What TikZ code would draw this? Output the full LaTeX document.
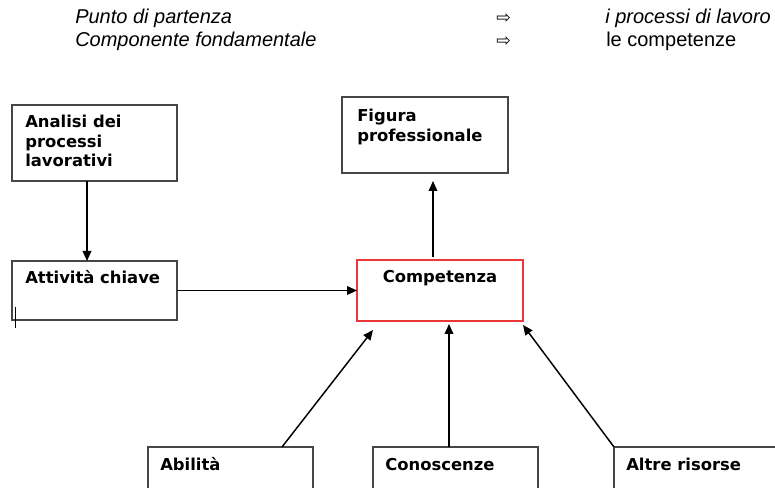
\documentclass[tikz,border=0pt]{standalone}
\usepackage{fontspec}
\setmainfont{DejaVu Sans}
\newfontfamily\hdrfont{Liberation Sans}
\newfontfamily\symfont{DejaVu Sans}
\usetikzlibrary{arrows.meta}
\newdimen\pxu \pxu=0.75pt
\definecolor{boxgray}{RGB}{70,70,70}
\definecolor{compred}{RGB}{235,55,55}
\tikzset{
  box/.style={draw=boxgray, line width=1pt, inner sep=0pt, outer sep=0pt, anchor=north west, fill=white},
  redbox/.style={box, draw=compred},
  lbl/.style={inner sep=0pt, anchor=base west, font=\fontsize{12.3}{14.6}\selectfont\bfseries},
  hdr/.style={inner sep=0pt, anchor=base west, font=\hdrfont\fontsize{15}{17}\selectfont},
  arr/.style={draw=black, line width=1.1pt, -{Triangle[length=7.5pt,width=6.5pt]}}
}
\begin{document}
\begin{tikzpicture}[x=0.75pt,y=-0.75pt]
\useasboundingbox (0,0) rectangle (775,488);
\clip (0,0) rectangle (775,488);
% header
\node[hdr] (h1) at (75,24) {\itshape Punto di partenza};
\node[hdr] (h2) at (75,47) {\itshape Componente fondamentale};
\node[hdr, font=\symfont\fontsize{13}{15}\selectfont] (a1) at (496,24) {⇨};
\node[hdr, font=\symfont\fontsize{13}{15}\selectfont] (a2) at (496,47) {⇨};
\node[hdr] (r1) at (605,24) {\itshape i processi di lavoro};
\node[hdr] (r2) at (606,47) {le competenze};
% boxes
\node[box, minimum width=165\pxu, minimum height=76\pxu] (ana) at (12,105) {};
\node[box, minimum width=165\pxu, minimum height=59\pxu] (att) at (12,261) {};
\node[box, minimum width=166\pxu, minimum height=76\pxu] (fig) at (342,97) {};
\node[redbox, minimum width=166\pxu, minimum height=61\pxu] (comp) at (357,260) {};
\node[box, minimum width=165\pxu, minimum height=80\pxu] (abi) at (148,447) {};
\node[box, minimum width=165\pxu, minimum height=80\pxu] (con) at (373,447) {};
\node[box, minimum width=170\pxu, minimum height=80\pxu] (alt) at (614,447) {};
% texts
\node[lbl] (tana) at (25,128) {\begin{tabular}[t]{@{}l@{}}Analisi dei\\processi\\lavorativi\end{tabular}};
\node[lbl] (tatt) at (25,284) {Attività chiave};
\node[lbl] (tfig) at (357,122) {\begin{tabular}[t]{@{}l@{}}Figura\\professionale\end{tabular}};
\node[lbl, anchor=base] (tcomp) at (440,283) {Competenza};
\node[lbl] (tabi) at (160,470) {Abilità};
\node[lbl] (tcon) at (385,470) {Conoscenze};
\node[lbl] (talt) at (626,470) {Altre risorse};
% connectors
\draw[arr] ([xshift=75\pxu]ana.south west) -- ([xshift=75\pxu]att.north west);
\draw[arr] (att.east) -- (comp.west);
\draw[arr] ([shift={(76\pxu,3\pxu)}]comp.north west) -- ([shift={(91\pxu,-8\pxu)}]fig.south west);
\draw[arr] ([xshift=134\pxu]abi.north west) -- ([shift={(16\pxu,-9\pxu)}]comp.south west);
\draw[arr] ([xshift=76\pxu]con.north west) -- ([shift={(92\pxu,-3\pxu)}]comp.south west);
\draw[arr] (alt.north west) -- ([shift={(0\pxu,-4\pxu)}]comp.south east);
% stray cursor mark
\draw[black, line width=0.6pt] ([shift={(3\pxu,-46\pxu)}]att.north west) -- ++(0,21);
\end{tikzpicture}
\end{document}
